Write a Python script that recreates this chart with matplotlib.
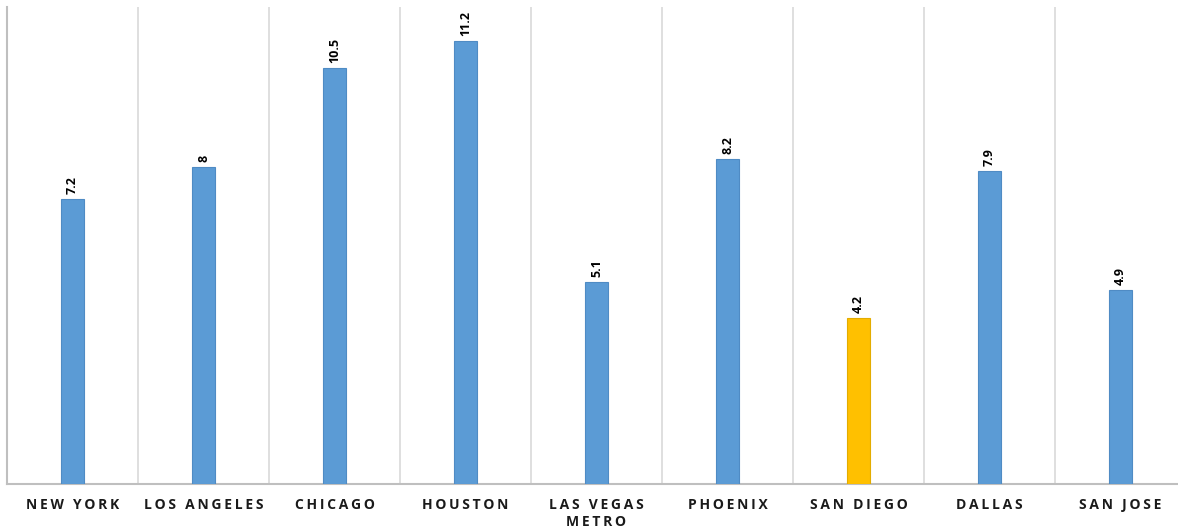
import matplotlib.pyplot as plt

cities = ['NEW YORK', 'LOS ANGELES', 'CHICAGO', 'HOUSTON', 'LAS VEGAS\nMETRO',
          'PHOENIX', 'SAN DIEGO', 'DALLAS', 'SAN JOSE']
values = [7.2, 8, 10.5, 11.2, 5.1, 8.2, 4.2, 7.9, 4.9]
labels = ['7.2', '8', '10.5', '11.2', '5.1', '8.2', '4.2', '7.9', '4.9']
highlight = 'SAN DIEGO'


def spaced(s):
    # fake letter spacing with thin spaces
    return '\n'.join('\u2009'.join(line) for line in s.split('\n'))


fig = plt.figure(figsize=(11.78, 5.31), dpi=100)
ax = fig.add_axes([7 / 1178, 47 / 531, 1 - 7 / 1178, 477 / 531])

colors = ['#FFC000' if c == highlight else '#5B9BD5' for c in cities]
edges = ['#E3AC00' if c == highlight else '#4F8BC4' for c in cities]
x = list(range(len(cities)))
bars = ax.bar(x, values, width=0.18, color=colors, edgecolor=edges, linewidth=0.8, zorder=3)

for b, lab in zip(bars, labels):
    ax.text(b.get_x() + b.get_width() / 2, b.get_height() + 0.13, lab,
            rotation=90, ha='center', va='bottom', fontsize=9, fontweight='bold',
            family=['Open Sans', 'DejaVu Sans'], color='#000000')

for i in range(len(cities) - 1):
    ax.axvline(i + 0.5, color='#D9D9D9', linewidth=1.2, zorder=1)

ax.set_xlim(-0.5, (1178 - 7) / 131 - 0.5)
ax.set_ylim(0, 12.05)
ax.set_xticks(x)
ax.set_xticklabels([spaced(c) for c in cities], fontsize=10, fontweight='bold',
                   family=['Open Sans', 'DejaVu Sans'], color='#1a1a1a', linespacing=1.25)
ax.tick_params(axis='x', length=0, pad=10)
ax.set_yticks([])

for s in ['top', 'right']:
    ax.spines[s].set_visible(False)
ax.spines['left'].set_color('#BFBFBF')
ax.spines['left'].set_linewidth(1.5)
ax.spines['bottom'].set_color('#BFBFBF')
ax.spines['bottom'].set_linewidth(1.5)

fig.savefig('out.png', dpi=100)
